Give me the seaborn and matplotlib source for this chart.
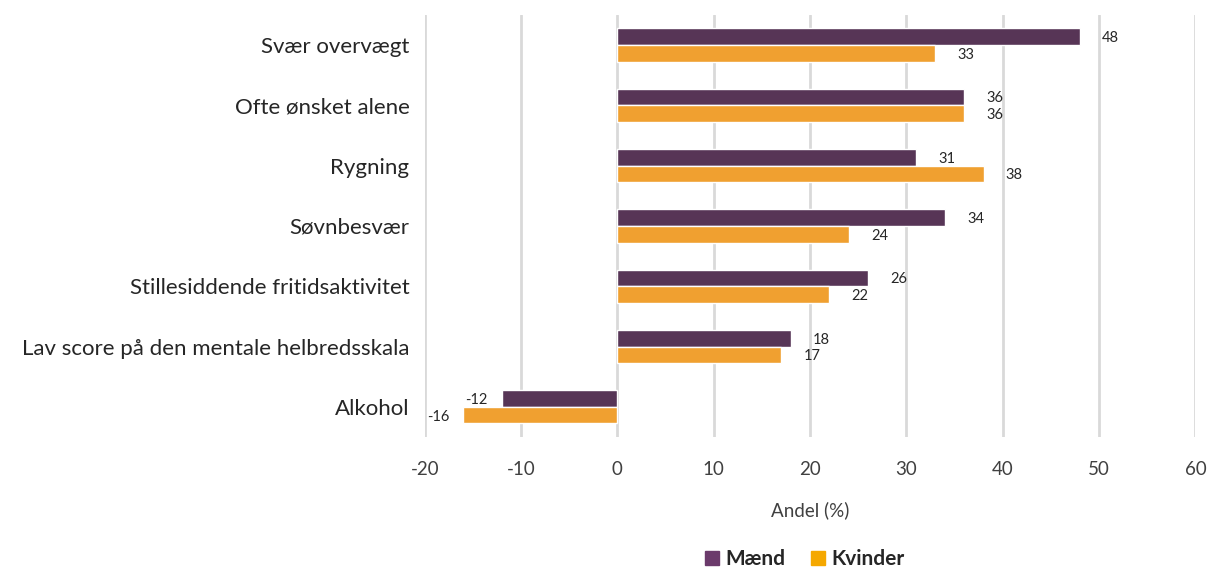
import matplotlib
matplotlib.use('Agg')
import matplotlib.pyplot as plt
import matplotlib.patches as mpatches
import seaborn as sns
import pandas as pd

categories = ['Svær overvægt', 'Ofte ønsket alene', 'Rygning', 'Søvnbesvær',
              'Stillesiddende fritidsaktivitet', 'Lav score på den mentale helbredsskala',
              'Alkohol']
maend = [48, 36, 31, 34, 26, 18, -12]
kvinder = [33, 36, 38, 24, 22, 17, -16]
series = ['Mænd', 'Kvinder']
colors = {'Mænd': '#573556', 'Kvinder': '#F0A030'}
legend_colors = {'Mænd': '#6B3A6B', 'Kvinder': '#F5A800'}
xticks = [-20, -10, 0, 10, 20, 30, 40, 50, 60]

df = pd.DataFrame({
    'kategori': categories * 2,
    'serie': ['Mænd'] * len(categories) + ['Kvinder'] * len(categories),
    'andel': maend + kvinder,
})

sns.set_style('white')
plt.rcParams['font.family'] = ['Lato', 'DejaVu Sans']

fig = plt.figure(figsize=(12.1, 5.72), dpi=100)
ax = fig.add_axes([0.351, 0.236, 0.637, 0.738])

sns.barplot(data=df, y='kategori', x='andel', hue='serie', order=categories,
            hue_order=series, palette=colors, orient='h', width=0.55,
            saturation=1, legend=False, ax=ax)

for cont in ax.containers:
    for bar in cont:
        w = bar.get_width()
        yc = bar.get_y() + bar.get_height() / 2
        if w >= 0:
            ax.annotate(f'{w:.0f}', (w, yc), xytext=(16, -1), textcoords='offset points',
                        ha='left', va='center', fontsize=10.5, color='#262626')
        else:
            ax.annotate(f'{w:.0f}', (w, yc), xytext=(-10, -1), textcoords='offset points',
                        ha='right', va='center', fontsize=10.5, color='#262626')

ax.set_xlim(-20, 60)
ax.set_xticks(xticks)
ax.set_xticklabels([str(t) for t in xticks], fontsize=13.5, color='#404040')
ax.tick_params(axis='y', labelsize=16, colors='#262626', length=0, pad=11)
ax.tick_params(axis='x', length=0, pad=17)
ax.set_ylabel('')
ax.set_xlabel('Andel (%)', fontsize=13.5, color='#404040', labelpad=17)
ax.xaxis.grid(True, color='#D9D9D9', linewidth=2)
ax.set_axisbelow(True)
for s in ax.spines.values():
    s.set_visible(False)

handles = [mpatches.Patch(color=legend_colors[s], label=s) for s in series]
leg = fig.legend(handles=handles, loc='center', bbox_to_anchor=(0.665, 0.022), ncol=2,
                 frameon=False, handlelength=0.7, handleheight=0.7, handletextpad=0.3,
                 columnspacing=1.2, borderpad=0.1, prop={'weight': 'bold', 'size': 15})

fig.savefig('out.png', dpi=100)
